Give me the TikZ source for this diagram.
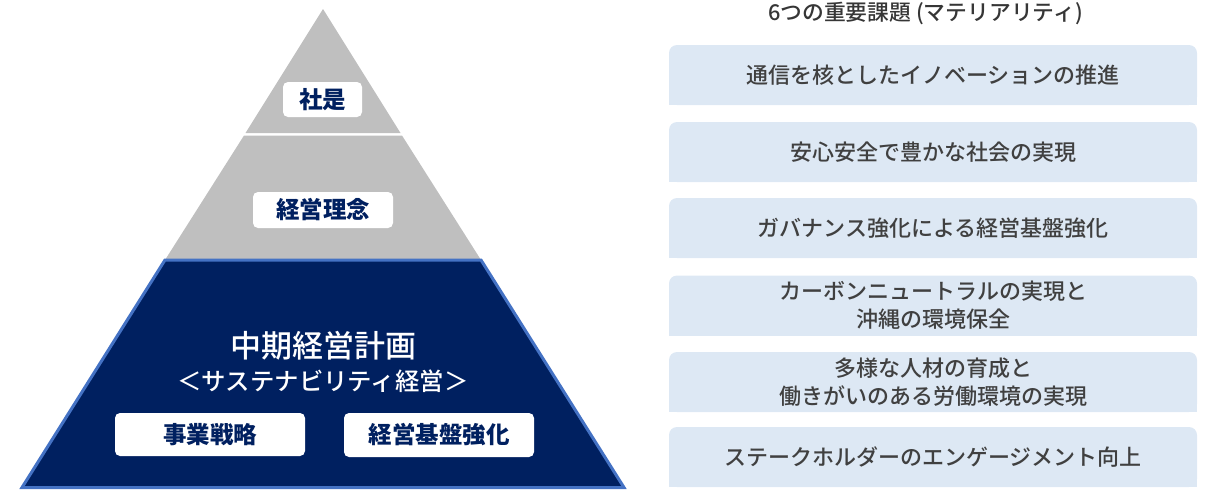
\documentclass[tikz,border=0pt]{standalone}
\usepackage{fontspec}
\newfontfamily\jp{Noto Sans CJK JP}
\newfontfamily\jpm{Noto Sans CJK JP Medium}
\usetikzlibrary{backgrounds}
\definecolor{pgray}{HTML}{BFBFBF}
\definecolor{navy}{HTML}{002060}
\definecolor{edgeblue}{HTML}{4472C4}
\definecolor{boxfill}{HTML}{DDE8F4}
\definecolor{txtgray}{HTML}{404040}
\tikzset{
  lbl/.style={fill=white, rounded corners=5, text=navy, inner sep=0pt,
    font=\jp\bfseries\fontsize{23.5}{28}\selectfont},
  mbox/.style={fill=boxfill, rounded corners=8, minimum width=528pt, minimum height=60pt,
    inner sep=0pt, text=txtgray, align=center, font=\jpm\fontsize{22}{28}\selectfont},
}
\begin{document}
\begin{tikzpicture}[x=1pt,y=-1pt]
\useasboundingbox (0,0) rectangle (1213,490);
% pyramid
\fill[pgray] (323,9) -- (400.5,133) -- (245.5,133) -- cycle;
\fill[pgray] (244,135.5) -- (402,135.5) -- (481,260) -- (165,260) -- cycle;
\filldraw[fill=navy, draw=edgeblue, line width=3pt, line join=miter] (165,260) -- (481,260) -- (624,487.5) -- (22,487.5) -- cycle;
% pyramid labels
\node[lbl, minimum width=79pt, minimum height=35pt] (shaze) at (322.5,99.5) {社是};
\node[lbl, minimum width=140pt, minimum height=36pt] (rinen) at (323,210) {経営理念};
\node[text=white, font=\jpm\fontsize{31}{34}\selectfont] (plan) at (323,346) {中期経営計画};
\node[text=white, font=\jpm\fontsize{24.4}{28}\selectfont] (sust) at (323,381) {＜サステナビリティ経営＞};
\node[lbl, minimum width=190pt, minimum height=43pt] (jigyo) at (210,434.5) {事業戦略};
\node[lbl, minimum width=190pt, minimum height=44pt] (kiban) at (439,435) {経営基盤強化};
% right side
\node[text=txtgray!85!black, font=\jpm\fontsize{21.8}{24}\selectfont] (title) at (925.5,13.5) {6つの重要課題 (マテリアリティ)};
\foreach \i/\y/\t in {
  1/75/{通信を核としたイノベーションの推進},
  2/152/{安心安全で豊かな社会の実現},
  3/228/{ガバナンス強化による経営基盤強化},
  4/305.5/{カーボンニュートラルの実現と\\沖縄の環境保全},
  5/382/{多様な人材の育成と\\働きがいのある労働環境の実現},
  6/457/{ステークホルダーのエンゲージメント向上}} {
  \node[mbox] (m\i) at (933,\y) {\t};
  \begin{pgfonlayer}{background}
    \fill[boxfill] (m\i.west) rectangle (m\i.south east);
  \end{pgfonlayer}
}
\end{tikzpicture}
\end{document}
